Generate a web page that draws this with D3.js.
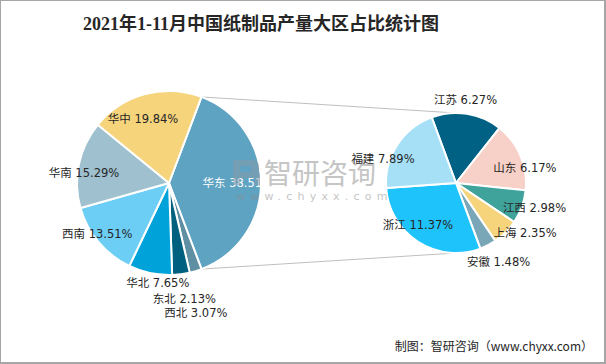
<!DOCTYPE html>
<html><head><meta charset="utf-8">
<script src="https://cdn.jsdelivr.net/npm/d3@7/dist/d3.min.js"></script>
<style>
html,body{margin:0;padding:0;background:#fff;}
svg{display:block;}
</style></head>
<body>
<svg id="chart" width="606" height="364"></svg>
<script>
// ---- data ----
const mainNames = ["华东", "东北", "西北", "华北", "西南", "华南", "华中"];
const mainValues = [38.51, 2.13, 3.07, 7.65, 13.51, 15.29, 19.84];
const mainColors = ["#5fa3c2", "#5f8fa3", "#00607f", "#00a3d9", "#6dcef5", "#9ec0cf", "#f6d47c"];

const subNames = ["江苏", "山东", "江西", "上海", "安徽", "浙江", "福建"];
const subValues = [6.27, 6.17, 2.98, 2.35, 1.48, 11.37, 7.89];
const subColors = ["#006184", "#f7d0c8", "#3fa39c", "#f6d47c", "#7aa7b8", "#1fc3fb", "#a5e0f7"];

const title = "2021年1-11月中国纸制品产量大区占比统计图";
const source = "制图：智研咨询（www.chyxx.com）";

// ---- layout ----
const W = 606, H = 364;
const svg = d3.select("#chart");
const deg = Math.PI / 180;

const c1 = {x: 169, y: 183, r: 92};
const c2 = {x: 456, y: 183, r: 70};

// label offsets from slice centroid (at 0.65 r)
const mainLabelOff = [[9, 0], [-2, 59], [19, 71], [1, 41.5], [-26, 12.5], [-26.5, 2], [-10.5, -6]];
const subLabelOff = [[2.4, -38], [27, 2.7], [35.7, 9], [36.8, 18], [21.7, 38], [-13.3, 3.8], [-34.8, 0.7]];

const fontLbl = "'DejaVu Sans','Noto Sans CJK SC',sans-serif";

// frame
svg.append("rect").attr("x", 0).attr("y", 0).attr("width", W).attr("height", H).attr("fill", "#fff");
svg.append("line").attr("x1", 0).attr("x2", W).attr("y1", 0.5).attr("y2", 0.5).attr("stroke", "#a6a6a6");
svg.append("line").attr("x1", 0.5).attr("x2", 0.5).attr("y1", 0).attr("y2", H).attr("stroke", "#a6a6a6");
svg.append("line").attr("x1", W - 1).attr("x2", W - 1).attr("y1", 0).attr("y2", H).attr("stroke", "#a6a6a6").attr("stroke-width", 2);
svg.append("line").attr("x1", 0).attr("x2", W).attr("y1", H - 1).attr("y2", H - 1).attr("stroke", "#a6a6a6").attr("stroke-width", 2);

// title
svg.append("text").attr("x", 261).attr("y", 30).attr("text-anchor", "middle")
  .attr("font-family", "'Liberation Serif','Noto Sans CJK SC',serif")
  .attr("font-size", 18).attr("font-weight", "bold").attr("fill", "#262626").text(title);

// main pie
const mainTotal = d3.sum(mainValues);
const otherSpan = mainValues[0] / mainTotal * 2 * Math.PI;
const mainStart = Math.PI / 2 - otherSpan / 2;
const pie1 = d3.pie().sort(null).value(d => d)
  .startAngle(mainStart).endAngle(mainStart + 2 * Math.PI);
const arcs1 = pie1(mainValues);
const arc1 = d3.arc().innerRadius(0).outerRadius(c1.r);
const lblArc1 = d3.arc().innerRadius(c1.r * 0.65).outerRadius(c1.r * 0.65);

// connector lines
const a0 = arcs1[0].startAngle, a1 = arcs1[0].endAngle;
const conn = [
  [[c1.x + Math.sin(a0) * c1.r, c1.y - Math.cos(a0) * c1.r], [c2.x, c2.y - c2.r]],
  [[c1.x + Math.sin(a1) * c1.r, c1.y - Math.cos(a1) * c1.r], [c2.x, c2.y + c2.r]]
];
svg.selectAll("line.conn").data(conn).enter().append("line").attr("class", "conn")
  .attr("x1", d => d[0][0]).attr("y1", d => d[0][1])
  .attr("x2", d => d[1][0]).attr("y2", d => d[1][1])
  .attr("stroke", "#bfbfbf").attr("stroke-width", 1);

const g1 = svg.append("g").attr("transform", `translate(${c1.x},${c1.y})`);
g1.selectAll("path").data(arcs1).enter().append("path")
  .attr("d", arc1).attr("fill", (d, i) => mainColors[i])
  .attr("stroke", "#fff").attr("stroke-width", 2).attr("stroke-linejoin", "round");

// sub pie
const subTotal = d3.sum(subValues);
const subStart = -20.3 * deg;
const pie2 = d3.pie().sort(null).value(d => d)
  .startAngle(subStart).endAngle(subStart + 2 * Math.PI);
const arcs2 = pie2(subValues);
const arc2 = d3.arc().innerRadius(0).outerRadius(c2.r);
const lblArc2 = d3.arc().innerRadius(c2.r * 0.65).outerRadius(c2.r * 0.65);
const g2 = svg.append("g").attr("transform", `translate(${c2.x},${c2.y})`);
g2.selectAll("path").data(arcs2).enter().append("path")
  .attr("d", arc2).attr("fill", (d, i) => subColors[i])
  .attr("stroke", "#fff").attr("stroke-width", 2).attr("stroke-linejoin", "round");

// labels
g1.selectAll("text").data(arcs1).enter().append("text")
  .attr("x", (d, i) => lblArc1.centroid(d)[0] + mainLabelOff[i][0])
  .attr("y", (d, i) => lblArc1.centroid(d)[1] + mainLabelOff[i][1])
  .attr("dy", "0.36em").attr("text-anchor", "middle")
  .attr("font-family", fontLbl).attr("font-size", 11.5)
  .attr("fill", (d, i) => i === 0 ? "#fff" : "#262626")
  .text((d, i) => `${mainNames[i]} ${mainValues[i].toFixed(2)}%`);

g2.selectAll("text").data(arcs2).enter().append("text")
  .attr("x", (d, i) => lblArc2.centroid(d)[0] + subLabelOff[i][0])
  .attr("y", (d, i) => lblArc2.centroid(d)[1] + subLabelOff[i][1])
  .attr("dy", "0.36em").attr("text-anchor", "middle")
  .attr("font-family", fontLbl).attr("font-size", 11.5)
  .attr("fill", "#262626")
  .text((d, i) => `${subNames[i]} ${subValues[i].toFixed(2)}%`);

// watermark
const wm = svg.append("g").attr("opacity", 0.5);
wm.append("path")
  .attr("d", "M233,160 h20 a6,6 0 0 1 6,6 v6 a6,6 0 0 1 -6,6 h-13 v7 h-7 z M240,166 v6 h11 v-6 z")
  .attr("fill", "#8a9aa8");
wm.append("rect").attr("x", 255).attr("y", 174).attr("width", 5).attr("height", 11).attr("fill", "#8a9aa8");
wm.append("text").attr("x", 264).attr("y", 184).attr("font-family", "'Noto Sans CJK SC',sans-serif")
  .attr("font-size", 28).attr("fill", "#8c8c8c").text("智研咨询");
wm.append("text").attr("x", 236).attr("y", 200).attr("font-family", "'DejaVu Sans',sans-serif")
  .attr("font-size", 11).attr("letter-spacing", 5.2).attr("fill", "#8c8c8c").text("www.chyxx.com");

// source
svg.append("text").attr("x", 593).attr("y", 351).attr("text-anchor", "end")
  .attr("font-family", "'Noto Sans CJK SC',sans-serif").attr("font-size", 12)
  .attr("fill", "#262626").text(source);
</script>
</body></html>
